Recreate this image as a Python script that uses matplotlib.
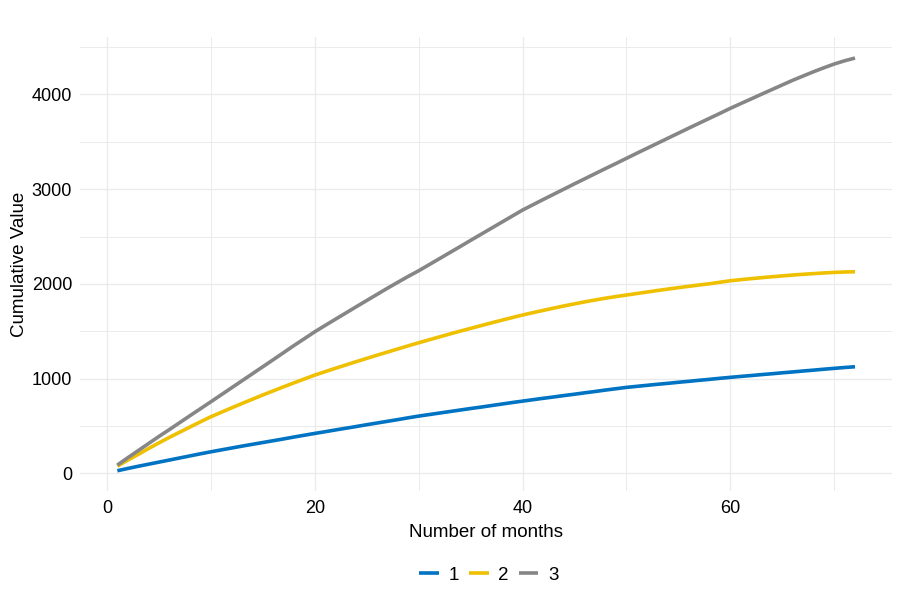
import matplotlib
matplotlib.use("Agg")
import matplotlib.pyplot as plt
from matplotlib.ticker import MultipleLocator

plt.rcParams['font.family'] = ['Liberation Sans', 'DejaVu Sans']

months = list(range(1, 73))
series_names = ["1", "2", "3"]

values_1 = [28, 52, 75, 97, 119, 141, 163, 185, 207, 228,
            248, 268, 288, 307, 326, 345, 364, 384, 403, 422,
            440, 459, 477, 495, 514, 532, 550, 568, 587, 605,
            621, 637, 653, 669, 685, 700, 716, 732, 748, 763,
            778, 793, 807, 822, 836, 851, 865, 880, 894, 908,
            919, 930, 941, 951, 962, 972, 983, 993, 1004, 1014,
            1024, 1033, 1043, 1052, 1062, 1071, 1081, 1090, 1100, 1109, 1118, 1126]

values_2 = [77, 140, 200, 262, 322, 380, 435, 490, 545, 598,
            645, 692, 738, 783, 828, 871, 914, 956, 997, 1038,
            1074, 1110, 1145, 1180, 1214, 1248, 1281, 1314, 1347, 1379,
            1410, 1441, 1472, 1502, 1531, 1560, 1589, 1617, 1645, 1672,
            1697, 1721, 1745, 1768, 1790, 1811, 1831, 1850, 1867, 1883,
            1899, 1915, 1931, 1946, 1961, 1975, 1989, 2002, 2018, 2034,
            2045, 2056, 2066, 2076, 2085, 2094, 2102, 2109, 2116, 2122, 2126, 2129]

values_3 = [88, 165, 240, 315, 390, 462, 536, 610, 683, 756,
            830, 904, 978, 1052, 1126, 1200, 1275, 1350, 1422, 1495,
            1562, 1628, 1694, 1760, 1825, 1890, 1955, 2018, 2080, 2139,
            2203, 2267, 2331, 2395, 2460, 2524, 2588, 2652, 2716, 2780,
            2836, 2892, 2947, 3002, 3057, 3111, 3165, 3219, 3272, 3326,
            3380, 3433, 3486, 3539, 3592, 3645, 3697, 3749, 3801, 3854,
            3904, 3953, 4003, 4052, 4101, 4150, 4195, 4240, 4282, 4322, 4356, 4385]

colors = ["#0073C2", "#EFC000", "#868686"]

fig = plt.figure(figsize=(9, 6), dpi=100)
ax = fig.add_axes([0.0894, 0.181, 0.9016, 0.7567])

for name, vals, c in zip(series_names, [values_1, values_2, values_3], colors):
    ax.plot(months, vals, color=c, lw=2.6, label=name, solid_capstyle='butt')

ax.set_xlim(-2.55, 75.55)
ax.set_ylim(-190, 4603)
ax.xaxis.set_major_locator(MultipleLocator(20))
ax.xaxis.set_minor_locator(MultipleLocator(10))
ax.yaxis.set_major_locator(MultipleLocator(1000))
ax.yaxis.set_minor_locator(MultipleLocator(500))
ax.grid(which='major', color='#EBEBEB', lw=1.0)
ax.grid(which='minor', color='#EBEBEB', lw=0.7)
ax.set_axisbelow(True)
for s in ax.spines.values():
    s.set_visible(False)
ax.tick_params(which='both', length=0, labelsize=13, colors='black')
ax.tick_params(axis='y', pad=6)
ax.tick_params(axis='x', pad=6)

ax.set_xlabel("Number of months", fontsize=13.5, labelpad=5)
ax.set_ylabel("Cumulative Value", fontsize=13.5, labelpad=3)

leg = fig.legend(loc='center', bbox_to_anchor=(0.543, 0.041), ncol=3, frameon=False,
                 fontsize=13.5, handlelength=1.05, handletextpad=0.5, columnspacing=0.55)

fig.savefig("out.png", dpi=100)
